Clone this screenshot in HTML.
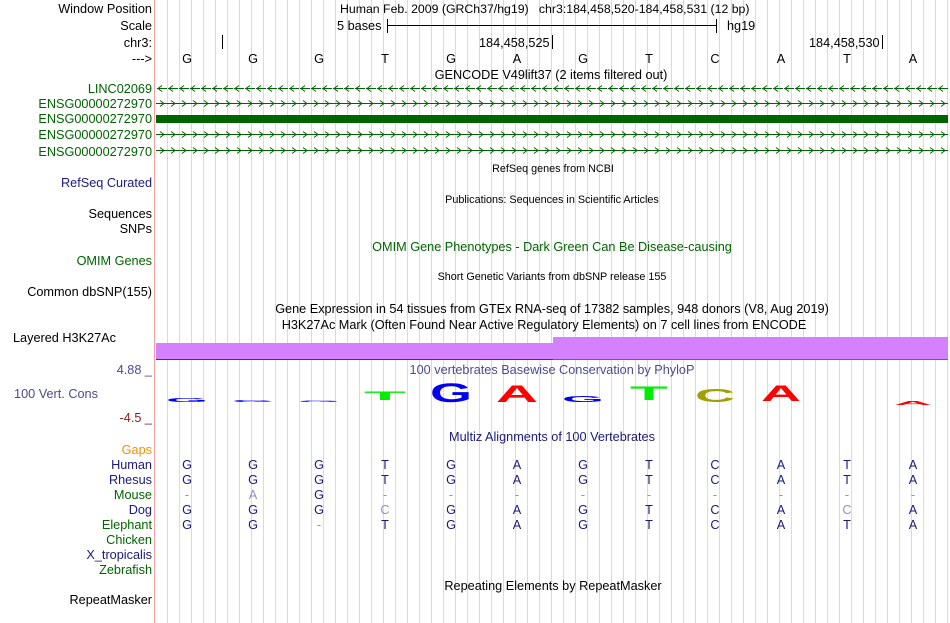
<!DOCTYPE html>
<html><head><meta charset="utf-8"><style>
html,body{margin:0;padding:0;background:#fff;}
svg{display:block;font-family:"Liberation Sans",sans-serif;}
</style></head><body>
<svg width="950" height="623" viewBox="0 0 950 623" xmlns="http://www.w3.org/2000/svg">
<g stroke="#d6d6f6" stroke-width="1">
<line x1="167.5" y1="0" x2="167.5" y2="623"/><line x1="179.5" y1="0" x2="179.5" y2="623"/><line x1="191.5" y1="0" x2="191.5" y2="623"/><line x1="203.5" y1="0" x2="203.5" y2="623"/><line x1="215.5" y1="0" x2="215.5" y2="623"/><line x1="227.5" y1="0" x2="227.5" y2="623"/><line x1="239.5" y1="0" x2="239.5" y2="623"/><line x1="251.5" y1="0" x2="251.5" y2="623"/><line x1="263.5" y1="0" x2="263.5" y2="623"/><line x1="275.5" y1="0" x2="275.5" y2="623"/><line x1="287.5" y1="0" x2="287.5" y2="623"/><line x1="299.5" y1="0" x2="299.5" y2="623"/><line x1="311.5" y1="0" x2="311.5" y2="623"/><line x1="323.5" y1="0" x2="323.5" y2="623"/><line x1="335.5" y1="0" x2="335.5" y2="623"/><line x1="347.5" y1="0" x2="347.5" y2="623"/><line x1="359.5" y1="0" x2="359.5" y2="623"/><line x1="371.5" y1="0" x2="371.5" y2="623"/><line x1="383.5" y1="0" x2="383.5" y2="623"/><line x1="395.5" y1="0" x2="395.5" y2="623"/><line x1="407.5" y1="0" x2="407.5" y2="623"/><line x1="419.5" y1="0" x2="419.5" y2="623"/><line x1="431.5" y1="0" x2="431.5" y2="623"/><line x1="443.5" y1="0" x2="443.5" y2="623"/><line x1="455.5" y1="0" x2="455.5" y2="623"/><line x1="467.5" y1="0" x2="467.5" y2="623"/><line x1="479.5" y1="0" x2="479.5" y2="623"/><line x1="491.5" y1="0" x2="491.5" y2="623"/><line x1="503.5" y1="0" x2="503.5" y2="623"/><line x1="515.5" y1="0" x2="515.5" y2="623"/><line x1="527.5" y1="0" x2="527.5" y2="623"/><line x1="539.5" y1="0" x2="539.5" y2="623"/><line x1="551.5" y1="0" x2="551.5" y2="623"/><line x1="563.5" y1="0" x2="563.5" y2="623"/><line x1="575.5" y1="0" x2="575.5" y2="623"/><line x1="587.5" y1="0" x2="587.5" y2="623"/><line x1="599.5" y1="0" x2="599.5" y2="623"/><line x1="611.5" y1="0" x2="611.5" y2="623"/><line x1="623.5" y1="0" x2="623.5" y2="623"/><line x1="635.5" y1="0" x2="635.5" y2="623"/><line x1="647.5" y1="0" x2="647.5" y2="623"/><line x1="659.5" y1="0" x2="659.5" y2="623"/><line x1="671.5" y1="0" x2="671.5" y2="623"/><line x1="683.5" y1="0" x2="683.5" y2="623"/><line x1="695.5" y1="0" x2="695.5" y2="623"/><line x1="707.5" y1="0" x2="707.5" y2="623"/><line x1="719.5" y1="0" x2="719.5" y2="623"/><line x1="731.5" y1="0" x2="731.5" y2="623"/><line x1="743.5" y1="0" x2="743.5" y2="623"/><line x1="755.5" y1="0" x2="755.5" y2="623"/><line x1="767.5" y1="0" x2="767.5" y2="623"/><line x1="779.5" y1="0" x2="779.5" y2="623"/><line x1="791.5" y1="0" x2="791.5" y2="623"/><line x1="803.5" y1="0" x2="803.5" y2="623"/><line x1="815.5" y1="0" x2="815.5" y2="623"/><line x1="827.5" y1="0" x2="827.5" y2="623"/><line x1="839.5" y1="0" x2="839.5" y2="623"/><line x1="851.5" y1="0" x2="851.5" y2="623"/><line x1="863.5" y1="0" x2="863.5" y2="623"/><line x1="875.5" y1="0" x2="875.5" y2="623"/><line x1="887.5" y1="0" x2="887.5" y2="623"/><line x1="899.5" y1="0" x2="899.5" y2="623"/><line x1="911.5" y1="0" x2="911.5" y2="623"/><line x1="923.5" y1="0" x2="923.5" y2="623"/><line x1="935.5" y1="0" x2="935.5" y2="623"/><line x1="947.5" y1="0" x2="947.5" y2="623"/>
</g>
<line x1="154.5" y1="0" x2="154.5" y2="623" stroke="#f4a0a0"/>

<g font-size="12.7" text-anchor="end" fill="#000">
<text x="152" y="13">Window Position</text>
<text x="152" y="30">Scale</text>
<text x="152" y="47">chr3:</text>
<text x="152" y="63">---&gt;</text>
<text x="152" y="218">Sequences</text>
<text x="152" y="233">SNPs</text>
<text x="152" y="296">Common dbSNP(155)</text>
<text x="152" y="604">RepeatMasker</text>
</g>
<text x="13" y="342" font-size="12.7" fill="#000">Layered H3K27Ac</text>
<g font-size="12.7" text-anchor="end" fill="#006400">
<text x="152" y="93">LINC02069</text>
<text x="152" y="108">ENSG00000272970</text>
<text x="152" y="123">ENSG00000272970</text>
<text x="152" y="139">ENSG00000272970</text>
<text x="152" y="156">ENSG00000272970</text>
<text x="152" y="265">OMIM Genes</text>
<text x="152" y="499">Mouse</text>
<text x="152" y="529">Elephant</text>
<text x="152" y="544">Chicken</text>
<text x="152" y="574">Zebrafish</text>
</g>
<g font-size="12.7" text-anchor="end" fill="#1a1a80">
<text x="152" y="187">RefSeq Curated</text>
<text x="152" y="469">Human</text>
<text x="152" y="484">Rhesus</text>
<text x="152" y="514">Dog</text>
<text x="152" y="559">X_tropicalis</text>
</g>
<text x="152" y="454" font-size="12.7" text-anchor="end" fill="#f0900a">Gaps</text>
<text x="56" y="398" font-size="12.7" text-anchor="middle" fill="#4a4a90">100 Vert. Cons</text>
<text x="152" y="374" font-size="12.7" text-anchor="end" fill="#4a4a90">4.88 _</text>
<text x="152" y="422" font-size="12.7" text-anchor="end" fill="#8b2020">-4.5 _</text>

<!-- header -->
<text x="340" y="13" font-size="12.3" fill="#000" xml:space="preserve">Human Feb. 2009 (GRCh37/hg19)   chr3:184,458,520-184,458,531 (12 bp)</text>
<g font-size="12.7" fill="#000">
<text x="337" y="30">5 bases</text>
<text x="727" y="30">hg19</text>
<text x="479" y="47">184,458,525</text>
<text x="809" y="47">184,458,530</text>
</g>
<g stroke="#000">
<line x1="387.5" y1="19" x2="387.5" y2="33"/><line x1="387" y1="25.5" x2="717" y2="25.5"/><line x1="716.5" y1="19" x2="716.5" y2="33"/>
<line x1="222.5" y1="35" x2="222.5" y2="49"/><line x1="552.5" y1="35" x2="552.5" y2="49"/><line x1="882.5" y1="35" x2="882.5" y2="49"/>
</g>
<g font-size="12.7" text-anchor="middle" fill="#000">
<text x="187" y="63">G</text><text x="253" y="63">G</text><text x="319" y="63">G</text><text x="385" y="63">T</text><text x="451" y="63">G</text><text x="517" y="63">A</text><text x="583" y="63">G</text><text x="649" y="63">T</text><text x="715" y="63">C</text><text x="781" y="63">A</text><text x="847" y="63">T</text><text x="913" y="63">A</text>
<text x="551" y="79">GENCODE V49lift37 (2 items filtered out)</text>
<text x="552" y="313">Gene Expression in 54 tissues from GTEx RNA-seq of 17382 samples, 948 donors (V8, Aug 2019)</text>
<text x="544" y="329">H3K27Ac Mark (Often Found Near Active Regulatory Elements) on 7 cell lines from ENCODE</text>
<text x="553" y="590">Repeating Elements by RepeatMasker</text>
</g>
<g font-size="10.8" text-anchor="middle" fill="#000">
<text x="553" y="172">RefSeq genes from NCBI</text>
<text x="552" y="203">Publications: Sequences in Scientific Articles</text>
<text x="552" y="280">Short Genetic Variants from dbSNP release 155</text>
</g>
<text x="552" y="251" font-size="12.7" text-anchor="middle" fill="#006400">OMIM Gene Phenotypes - Dark Green Can Be Disease-causing</text>
<text x="552" y="374" font-size="12.7" text-anchor="middle" fill="#4a4a90">100 vertebrates Basewise Conservation by PhyloP</text>
<text x="552" y="441" font-size="12.7" text-anchor="middle" fill="#1a1a80">Multiz Alignments of 100 Vertebrates</text>

<!-- gene tracks -->
<defs>
<pattern id="la" x="156" y="0" width="11" height="10" patternUnits="userSpaceOnUse"><path d="M1 5 H11 M6 2 L2 5 L6 8" fill="none" stroke="#006400" stroke-width="1"/></pattern>
<pattern id="ra" x="156" y="0" width="11" height="10" patternUnits="userSpaceOnUse"><path d="M0 5 H11 M4 2 L8 5 L4 8" fill="none" stroke="#006400" stroke-width="1"/></pattern>
</defs>
<g transform="translate(0,83.5)"><rect x="156" y="0" width="792" height="10" fill="url(#la)"/></g>
<g transform="translate(0,98.5)"><rect x="156" y="0" width="792" height="10" fill="url(#ra)"/></g>
<g transform="translate(0,129.5)"><rect x="156" y="0" width="792" height="10" fill="url(#ra)"/></g>
<g transform="translate(0,145.5)"><rect x="156" y="0" width="792" height="10" fill="url(#ra)"/></g>
<rect x="156" y="115" width="792" height="8" fill="#006400"/>

<!-- H3K27Ac -->
<rect x="156" y="343" width="397" height="16" fill="#d580ff"/>
<rect x="553" y="337" width="395" height="22" fill="#d580ff"/>
<line x1="156" y1="359.5" x2="553" y2="359.5" stroke="#404040"/>
<line x1="553" y1="359.5" x2="948" y2="359.5" stroke="#4070a0"/>

<!-- conservation logos -->
<g font-weight="bold" text-anchor="middle">
<text x="187" y="402" font-size="5" fill="#0000ff" textLength="42" lengthAdjust="spacingAndGlyphs">G</text>
<text x="253" y="402" font-size="3" fill="#0000ff" textLength="42" lengthAdjust="spacingAndGlyphs">G</text>
<text x="319" y="402" font-size="2" fill="#0000ff" textLength="42" lengthAdjust="spacingAndGlyphs">G</text>
<text x="385" y="400" font-size="12" fill="#00ee00" textLength="42" lengthAdjust="spacingAndGlyphs">T</text>
<text x="451" y="402" font-size="27" fill="#0000ee" textLength="42" lengthAdjust="spacingAndGlyphs">G</text>
<text x="517" y="402" font-size="24" fill="#ff0000" textLength="42" lengthAdjust="spacingAndGlyphs">A</text>
<text x="583" y="402" font-size="8" fill="#0000ee" textLength="42" lengthAdjust="spacingAndGlyphs">G</text>
<text x="649" y="400" font-size="19" fill="#00ee00" textLength="38" lengthAdjust="spacingAndGlyphs">T</text>
<text x="715" y="402" font-size="18" fill="#a0a000" textLength="40" lengthAdjust="spacingAndGlyphs">C</text>
<text x="781" y="401" font-size="22" fill="#ff0000" textLength="40" lengthAdjust="spacingAndGlyphs">A</text>
<text x="913" y="405" font-size="5" fill="#ff0000" textLength="38" lengthAdjust="spacingAndGlyphs">A</text>
</g>

<!-- multiz rows -->
<g font-size="12.7" text-anchor="middle" fill="#1a1a80">
<text x="187" y="469">G</text><text x="253" y="469">G</text><text x="319" y="469">G</text><text x="385" y="469">T</text><text x="451" y="469">G</text><text x="517" y="469">A</text><text x="583" y="469">G</text><text x="649" y="469">T</text><text x="715" y="469">C</text><text x="781" y="469">A</text><text x="847" y="469">T</text><text x="913" y="469">A</text>
<text x="187" y="484">G</text><text x="253" y="484">G</text><text x="319" y="484">G</text><text x="385" y="484">T</text><text x="451" y="484">G</text><text x="517" y="484">A</text><text x="583" y="484">G</text><text x="649" y="484">T</text><text x="715" y="484">C</text><text x="781" y="484">A</text><text x="847" y="484">T</text><text x="913" y="484">A</text>
<text x="319" y="499">G</text>
<text x="187" y="514">G</text><text x="253" y="514">G</text><text x="319" y="514">G</text><text x="451" y="514">G</text><text x="517" y="514">A</text><text x="583" y="514">G</text><text x="649" y="514">T</text><text x="715" y="514">C</text><text x="781" y="514">A</text><text x="913" y="514">A</text>
<text x="187" y="529">G</text><text x="253" y="529">G</text><text x="385" y="529">T</text><text x="451" y="529">G</text><text x="517" y="529">A</text><text x="583" y="529">G</text><text x="649" y="529">T</text><text x="715" y="529">C</text><text x="781" y="529">A</text><text x="847" y="529">T</text><text x="913" y="529">A</text>
</g>
<g font-size="12.7" text-anchor="middle" fill="#9090c0">
<text x="187" y="499">-</text><text x="253" y="499">A</text><text x="385" y="499">-</text><text x="451" y="499">-</text><text x="517" y="499">-</text><text x="583" y="499">-</text><text x="649" y="499">-</text><text x="715" y="499">-</text><text x="781" y="499">-</text><text x="847" y="499">-</text><text x="913" y="499">-</text>
<text x="385" y="514">C</text><text x="847" y="514">C</text>
<text x="319" y="529">-</text>
</g>
</svg>
</body></html>
